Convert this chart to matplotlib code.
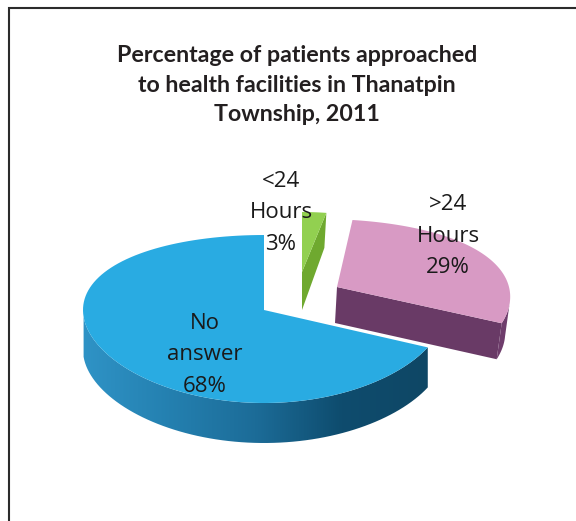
import numpy as np
import matplotlib
matplotlib.use('Agg')
import matplotlib.pyplot as plt
from matplotlib.colors import LinearSegmentedColormap
from matplotlib.patches import Polygon

# chart data
title = 'Percentage of patients approached\nto health facilities in Thanatpin\nTownship, 2011'
categories = ['No\nanswer', '>24\nHours', '<24\nHours']
shares = [68, 29, 3]


def rim(cx, cy, rx, up, k, a0, a1, shear=0.0, n=120):
    # top edge of a slice, squashed a bit more at the back for the perspective look
    t = np.radians(np.linspace(a0, a1, n))
    s = -np.sin(t)
    y = up * s + k * s ** 2
    x = rx * np.cos(t) + shear * y
    return cx + x, cy + y


fig = plt.figure(figsize=(5.76, 5.21), dpi=100)
ax = fig.add_axes([0, 0, 1, 1])
ax.set_xlim(0, 576)
ax.set_ylim(521, 0)
ax.axis('off')

# frame is open on the right and at the bottom
ax.plot([576, 9, 9], [8, 8, 521], color='#2b2b2b', lw=1.5, solid_joinstyle='miter')

ends = 90 + np.cumsum([0] + shares) * 3.6

# blue slice
bx, by = rim(264, 310, 181, 84, 9, ends[0], ends[1])
keep = by > 316
side = np.vstack([np.c_[bx[keep], by[keep]], np.c_[bx[keep], by[keep] + 40][::-1]])
side_poly = Polygon(side, closed=True, fc='none', ec='none')
ax.add_patch(side_poly)
blue_map = LinearSegmentedColormap.from_list('b', ['#2f93c6', '#2480b0', '#1c6c98', '#0e4c6e', '#0f4765'])
im = ax.imshow(np.linspace(0, 1, 256)[None, :], cmap=blue_map, extent=[83, 428, 450, 300],
               aspect='auto', zorder=2)
im.set_clip_path(side_poly)
ax.add_patch(Polygon(np.vstack([np.c_[bx, by], [264, 310]]), closed=True, fc='#29abe2', ec='none', zorder=3))

# pink slice, pulled out to the right
px, py = rim(337, 287, 172, 80, 12, ends[1], ends[2], shear=0.25)
face = [[337, 287], [px[0], py[0]], [px[0] - 5, py[0] + 36], [335, 323]]
ax.add_patch(Polygon(face, closed=True, fc='#693a66', ec='none', zorder=4))
mask = py > py[0] - 24
edge = np.vstack([np.c_[px[mask], py[mask]], np.c_[px[mask] - 5, py[mask] + 36][::-1]])
ax.add_patch(Polygon(edge, closed=True, fc='#6f3d6c', ec='none', zorder=4))
ax.add_patch(Polygon(np.vstack([np.c_[px, py], [337, 287]]), closed=True, fc='#d89ac4', ec='none', zorder=5))

# green slice
gx, gy = rim(302, 272, 130, 70, 10, ends[2], ends[3])
ax.add_patch(Polygon([[302, 272], [gx[0], gy[0]], [gx[0] - 2, gy[0] + 35], [302, 310]],
                     closed=True, fc='#6fa92f', ec='none', zorder=4))
ax.add_patch(Polygon(np.vstack([np.c_[gx, gy], [302, 272]]), closed=True, fc='#92d050', ec='none', zorder=5))

# labels
ax.text(297, 85, title, ha='center', va='center', fontsize=16.7, fontweight='bold',
        family='Lato', color='#231f20', linespacing=1.5, zorder=6)
label_pos = [(205, 355), (448, 236), (281, 213)]
for name, share, (lx, ly) in zip(categories, shares, label_pos):
    ax.text(lx, ly, '%s\n%d%%' % (name, share), ha='center', va='center', fontsize=16,
            family='Open Sans', color='#1a1a1a', linespacing=1.65, zorder=7)

fig.savefig('out.png', dpi=100)
